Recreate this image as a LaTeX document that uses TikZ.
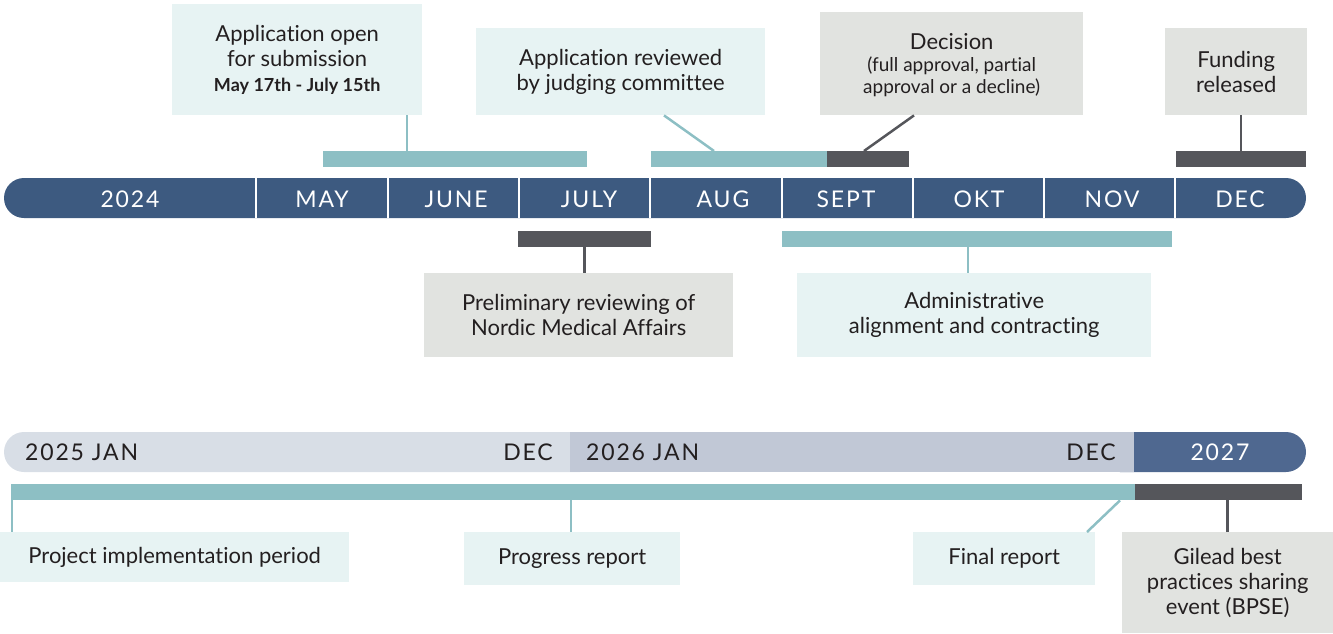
\documentclass[tikz,border=0pt]{standalone}
\usepackage{fontspec}
\setmainfont{Lato}[Ligatures=NoCommon]
\usetikzlibrary{positioning}
\definecolor{tlnavy}{HTML}{3D5A80}
\definecolor{barteal}{HTML}{8DBFC4}
\definecolor{bargrey}{HTML}{55565B}
\definecolor{boxteal}{HTML}{E7F3F3}
\definecolor{boxgrey}{HTML}{E1E3E0}
\definecolor{yrone}{HTML}{D8DEE6}
\definecolor{yrtwo}{HTML}{C1C8D6}
\definecolor{yrthree}{HTML}{4F6890}
\definecolor{ink}{HTML}{231F20}
\newcommand{\subsize}{\fontsize{19}{23}\selectfont}
\newcommand{\datesize}{\fontsize{18}{23}\selectfont}
\tikzset{
  tealbox/.style={fill=boxteal, draw=none, inner sep=0pt, align=center, anchor=north west, text=ink, font=\fontsize{22}{25}\selectfont},
  greybox/.style={tealbox, fill=boxgrey},
  phase/.style={draw=none, inner sep=0pt, minimum height=16pt, anchor=north west},
  month/.style={text=white, inner sep=0pt, font=\fontsize{23}{24}\selectfont\addfontfeature{LetterSpace=8}},
  yearlbl/.style={month, text=ink},
  tlink/.style={draw=barteal, line width=2.5pt},
  glink/.style={draw=bargrey, line width=2.5pt}
}
\begin{document}
\begin{tikzpicture}[x=1pt, y=-1pt]
    \useasboundingbox (0,0) rectangle (1333,633);

    % 2024 timeline
    \fill[tlnavy, rounded corners=20pt] (4,178) rectangle (1306,218);
    \foreach \xx in {256,388,519,650,782,913,1044,1175}
        \draw[white, line width=1.2pt] (\xx,178) -- (\xx,218);
    \node[month] (y24) at (130,199) {2024};
    \node[month] (may) at (322,199) {MAY};
    \node[month] (jun) at (456,199) {JUNE};
    \node[month] (jul) at (589,199) {JULY};
    \node[month] (aug) at (723,199) {AUG};
    \node[month] (sep) at (846,199) {SEPT};
    \node[month] (okt) at (979,199) {OKT};
    \node[month] (nov) at (1112,199) {NOV};
    \node[month] (dec) at (1240,199) {DEC};

    % phases 2024
    \node[phase, fill=barteal, minimum width=264pt] (subm) at (323,151) {};
    \node[phase, fill=barteal, minimum width=176pt] (review) at (651,151) {};
    \node[phase, fill=bargrey, minimum width=82pt] (decide) at (827,151) {};
    \node[phase, fill=bargrey, minimum width=130pt] (fund) at (1176,151) {};
    \node[phase, fill=bargrey, minimum width=133pt] (prelim) at (518,231) {};
    \node[phase, fill=barteal, minimum width=390pt] (admin) at (782,231) {};

    % boxes 2024
    \node[tealbox, minimum width=250pt, minimum height=111pt] (appopen) at (172,4)
        {Application open\\for submission\\{\datesize\bfseries May 17th - July 15th}};
    \node[tealbox, minimum width=289pt, minimum height=87pt] (revbox) at (476,28)
        {Application reviewed\\by judging committee};
    \node[greybox, minimum width=263pt, minimum height=103pt, text depth=0pt] (decbox) at (820,12)
        {Decision\\[-3pt]{\subsize (full approval, partial}\\[-3pt]{\subsize approval or a decline)}};
    \node[greybox, minimum width=142pt, minimum height=87pt] (fundbox) at (1165,28)
        {Funding\\released};
    \node[greybox, minimum width=309pt, minimum height=84pt] (prelbox) at (424,273)
        {Preliminary reviewing of\\Nordic Medical Affairs};
    \node[tealbox, minimum width=354pt, minimum height=84pt] (admbox) at (797,273)
        {Administrative\\alignment and contracting};

    \coordinate (c1) at (407,151);
    \coordinate (c2a) at (664,115);
    \coordinate (c2b) at (714,151);
    \coordinate (c3a) at (914,115);
    \coordinate (c3b) at (864,151);
    \coordinate (c4) at (968,247);

    \draw[tlink] (c1) edge (c1 |- appopen.south);
    \draw[tlink] (c2a |- revbox.south) edge (c2b |- review.north);
    \draw[glink] (c3a |- decbox.south) edge (c3b |- decide.north);
    \draw[glink] (fund.north) edge (fund.north |- fundbox.south);
    \draw[glink] (prelim.south) edge (prelim.south |- prelbox.north);
    \draw[tlink] (c4 |- admin.south) edge (c4 |- admbox.north);

    % 2025-2027 timeline
    \fill[yrthree, rounded corners=20pt] (1100,432) rectangle (1306,472);
    \fill[yrone, rounded corners=20pt] (4,432) rectangle (600,472);
    \fill[yrtwo] (570,432) rectangle (1134,472);
    \node[yearlbl, anchor=west] (y25) at (25,452) {2025 JAN};
    \node[yearlbl, anchor=east] (d25) at (553,452) {DEC};
    \node[yearlbl, anchor=west] (y26) at (586,452) {2026 JAN};
    \node[yearlbl, anchor=east] (d26) at (1116,452) {DEC};
    \node[month] (y27) at (1220,452) {2027};

    \node[phase, fill=barteal, minimum width=1124pt] (impl) at (11,484) {};
    \node[phase, fill=bargrey, minimum width=167pt] (bpse) at (1135,484) {};

    \node[tealbox, minimum width=349pt, minimum height=50pt] (projbox) at (0,532)
        {Project implementation period};
    \node[tealbox, minimum width=216pt, minimum height=53pt] (progbox) at (464,532)
        {Progress report};
    \node[tealbox, minimum width=182pt, minimum height=53pt] (finbox) at (913,532)
        {Final report};
    \node[greybox, minimum width=211pt, minimum height=101pt] (gilbox) at (1122,532)
        {Gilead best\\practices sharing\\event (BPSE)};

    \coordinate (c5) at (571,500);
    \coordinate (c6a) at (1120,500);
    \coordinate (c6b) at (1087,532);

    \draw[tlink] ([xshift=1pt]impl.south west) edge ([xshift=1pt]impl.south west |- projbox.north);
    \draw[tlink] (c5 |- impl.south) edge (c5 |- progbox.north);
    \draw[tlink] (c6a |- impl.south) edge (c6b |- finbox.north);
    \draw[glink] (gilbox.north) edge (gilbox.north |- bpse.south);
\end{tikzpicture}
\end{document}
